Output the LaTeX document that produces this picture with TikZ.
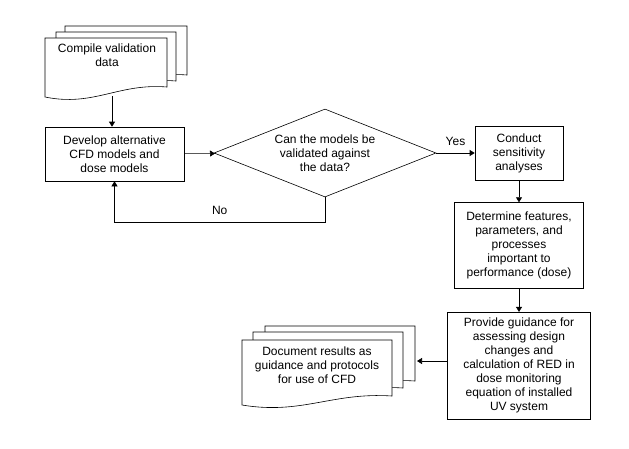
\documentclass[tikz,border=0pt]{standalone}
\usepackage{fontspec}
\setmainfont{Liberation Sans}
\usetikzlibrary{shapes.geometric, arrows.meta, positioning}

% one sheet of a document stack: left, top, right, bottom left, bottom right
\newcommand{\docsheet}[5]{%
  \filldraw[fill=white] (#1,#4) -- (#1,#2) -- (#3,#2) -- (#3,#5)
    .. controls ({#1+0.6*(#3-#1)},{#5-4}) and ({#1+0.4*(#3-#1)},{#4+10}) .. (#1,#4) -- cycle;}

\tikzset{
  proc/.style = {draw, fill=white, align=center, inner sep=2pt},
  arr/.style = {-{Triangle[length=5pt, width=6pt]}},
}

\begin{document}
\begin{tikzpicture}[x=1pt, y=-1pt, line width=0.6pt, font=\fontsize{12}{14}\selectfont]
    \useasboundingbox (0,0) rectangle (629,448);

    % input data stack
    \docsheet{65}{26}{187}{85}{75}
    \docsheet{56}{32}{176}{91}{81}
    \docsheet{45}{38}{167}{97}{87}
    \node[align=center] (compile) at (107,55) {Compile validation\\data};
    \coordinate (cmpbot) at (112,96);

    \node[proc, minimum width=139pt, minimum height=54pt] (develop) at (114.5,154)
        {Develop alternative\\CFD models and\\dose models};
    \node[draw, diamond, shape aspect=2.5, minimum width=222pt, minimum height=88pt,
        inner sep=0pt, align=center] (check) at (325,153)
        {Can the models be\\validated against\\the data?};
    \node[proc, minimum width=88pt, minimum height=54pt] (conduct) at (519,153)
        {Conduct\\sensitivity\\analyses};
    \node[proc, minimum width=129pt, minimum height=86pt] (determine) [below=22pt of conduct]
        {Determine features,\\parameters, and\\processes\\important to\\performance (dose)};
    \node[proc, minimum width=143pt, minimum height=107pt] (provide) [below=23pt of determine]
        {Provide guidance for\\assessing design\\changes and\\calculation of RED in\\dose monitoring\\equation of installed\\UV system};

    % output document stack
    \docsheet{265}{326}{415}{391}{381}
    \docsheet{253}{332}{403}{398}{388}
    \docsheet{242}{340}{392}{405}{396}
    \node[align=center] (docres) at (317,365)
        {Document results as\\guidance and protocols\\for use of CFD};
    \coordinate (docend) at (417,361);
    \coordinate (nocorner) at (325,222);

    \draw[arr] (cmpbot) -- (cmpbot |- develop.north);
    \draw[arr] (develop) -- (check);
    \draw[arr] (check) -- node[above=4pt] {Yes} (conduct);
    \draw[arr] (check.south) -- (nocorner) -| node[pos=0.25, above=4pt] {No} (develop.south);
    \draw[arr] (conduct) -- (determine);
    \draw[arr] (determine) -- (provide);
    \draw[arr] (provide.west |- docend) -- (docend);
\end{tikzpicture}
\end{document}
